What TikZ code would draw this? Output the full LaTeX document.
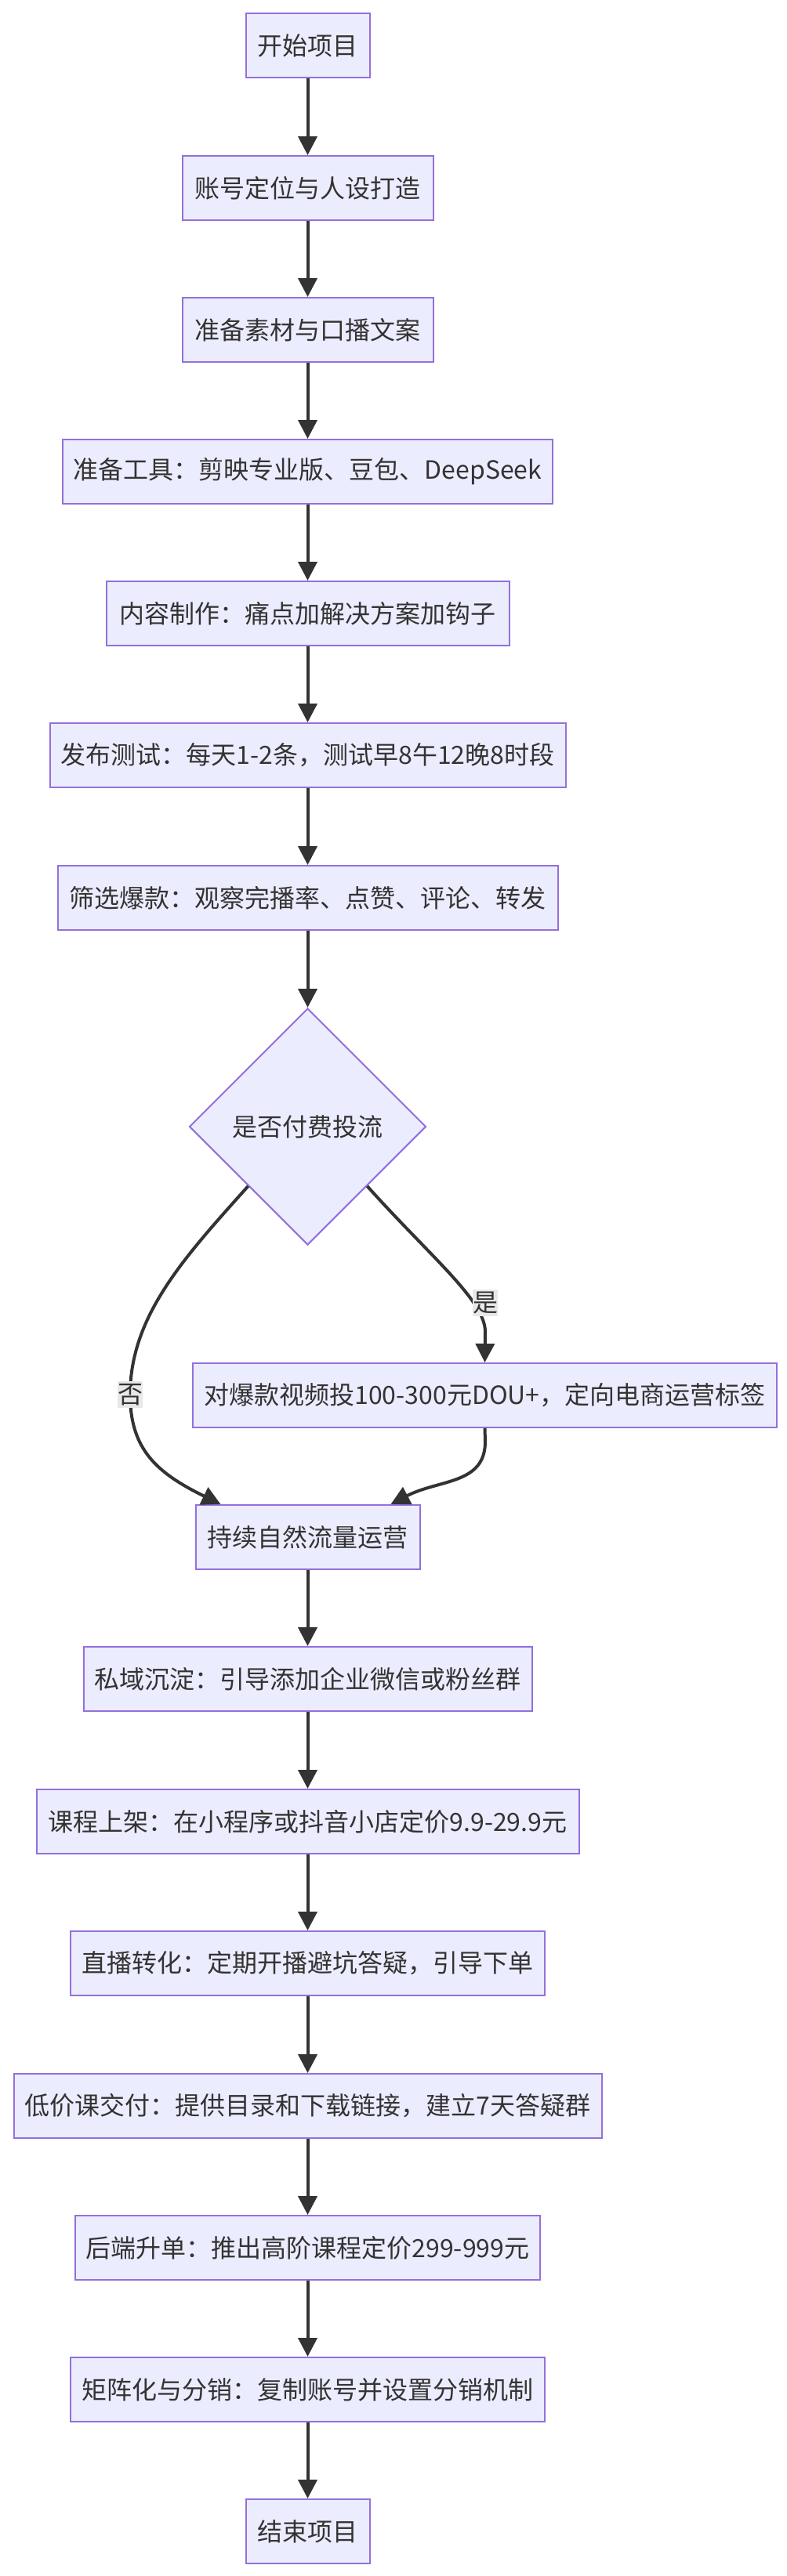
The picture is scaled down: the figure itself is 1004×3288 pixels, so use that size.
\documentclass[tikz,border=0pt]{standalone}
\usepackage{fontspec}
\setmainfont{Noto Sans CJK SC}
\usetikzlibrary{arrows.meta,shapes.geometric}
\definecolor{nodefill}{HTML}{ECECFF}
\definecolor{nodeline}{HTML}{9370DB}
\definecolor{ink}{HTML}{333333}
\definecolor{lblbg}{HTML}{E8E8E8}
\begin{document}
\begin{tikzpicture}[x=0.5pt,y=-0.5pt,
  txt/.style={text=ink, font=\fontsize{16pt}{20pt}\selectfont},
  flowbox/.style={txt, draw=nodeline, fill=nodefill, line width=1pt, minimum height=41pt, inner xsep=7pt, inner ysep=0pt},
  decision/.style={txt, diamond, aspect=1, draw=nodeline, fill=nodefill, line width=1pt, minimum width=151pt, minimum height=151pt, inner sep=0pt},
  arr/.style={draw=ink, line width=2pt, -{Triangle[length=12pt,width=12pt]}},
  elabel/.style={txt, fill=lblbg, inner xsep=0pt, inner ysep=1.5pt}]
\fill[white] (0,0) rectangle (1004,3288);
\useasboundingbox (0,0) rectangle (1004,3288);

\node[flowbox, minimum width=79pt]    (n1)  at (392.5,58)   {开始项目};
\node[flowbox, minimum width=160pt]   (n2)  at (392.5,240)  {账号定位与人设打造};
\node[flowbox, minimum width=160pt]   (n3)  at (392.5,421)  {准备素材与口播文案};
\node[flowbox, minimum width=310pt]   (n4)  at (392.5,602)  {准备工具：剪映专业版、豆包、DeepSeek};
\node[flowbox, minimum width=257pt]   (n5)  at (392.5,783)  {内容制作：痛点加解决方案加钩子};
\node[flowbox, minimum width=329pt]   (n6)  at (392.5,964)  {发布测试：每天1-2条，测试早8午12晚8时段};
\node[flowbox, minimum width=319pt]   (n7)  at (392.5,1146) {筛选爆款：观察完播率、点赞、评论、转发};
\node[decision]                       (dia) at (392.5,1438) {是否付费投流};
\node[flowbox, minimum width=366.5pt] (n9)  at (618.5,1781) {对爆款视频投100-300元DOU+，定向电商运营标签};
\node[flowbox, minimum width=143pt]   (n10) at (392.5,1962) {持续自然流量运营};
\node[flowbox, minimum width=286pt]   (n11) at (392.5,2143) {私域沉淀：引导添加企业微信或粉丝群};
\node[flowbox, minimum width=346pt]   (n12) at (392.5,2325) {课程上架：在小程序或抖音小店定价9.9-29.9元};
\node[flowbox, minimum width=302.5pt] (n13) at (392.5,2506) {直播转化：定期开播避坑答疑，引导下单};
\node[flowbox, minimum width=375pt]   (n14) at (392.5,2688) {低价课交付：提供目录和下载链接，建立7天答疑群};
\node[flowbox, minimum width=295.5pt] (n15) at (392.5,2869) {后端升单：推出高阶课程定价299-999元};
\node[flowbox, minimum width=302.5pt] (n16) at (392.5,3050) {矩阵化与分销：复制账号并设置分销机制};
\node[flowbox, minimum width=79pt]    (n17) at (392.5,3231) {结束项目};

\draw[arr] (n1.south) -- (n2.north);
\draw[arr] (n2.south) -- (n3.north);
\draw[arr] (n3.south) -- (n4.north);
\draw[arr] (n4.south) -- (n5.north);
\draw[arr] (n5.south) -- (n6.north);
\draw[arr] (n6.south) -- (n7.north);
\draw[arr] (n7.south) -- (dia.north);

\draw[arr] (dia.south east) .. controls (550,1605) and (619,1660) .. (619,1700) -- (n9.north);
\draw[arr] (dia.south west) .. controls (235,1605) and (166,1680) .. (166,1780)
  .. controls (166,1850) and (200,1880) .. ([xshift=16.5pt]n10.north west);
\draw[arr] (n9.south) -- (619,1840) .. controls (619,1895) and (560,1888) .. ([xshift=-19pt]n10.north east);

\node[elabel] (lyes) at (619,1663) {是};
\node[elabel] (lno)  at (166,1780) {否};

\draw[arr] (n10.south) -- (n11.north);
\draw[arr] (n11.south) -- (n12.north);
\draw[arr] (n12.south) -- (n13.north);
\draw[arr] (n13.south) -- (n14.north);
\draw[arr] (n14.south) -- (n15.north);
\draw[arr] (n15.south) -- (n16.north);
\draw[arr] (n16.south) -- (n17.north);
\end{tikzpicture}
\end{document}
